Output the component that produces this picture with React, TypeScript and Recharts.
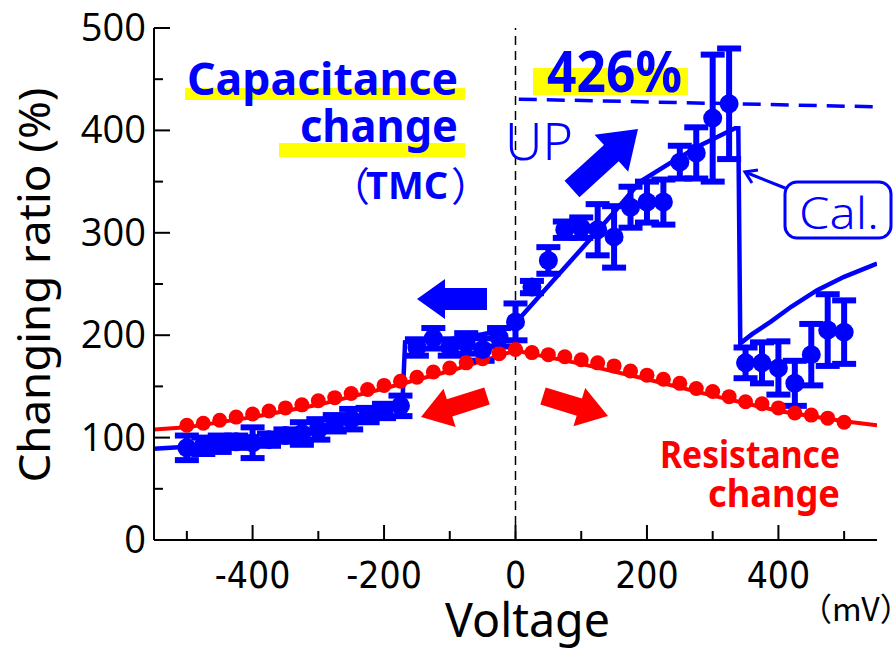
import React from 'react';
import { ComposedChart, Line, Scatter, XAxis, YAxis, ErrorBar, ReferenceLine } from 'recharts';

// Resistance change (red dots, every 25 mV)
const redVolt = [
  -500, -475, -450, -425, -400, -375, -350, -325, -300, -275, -250, -225, -200, -175, -150, -125, -100, -75, -50, -25,
  0, 25, 50, 75, 100, 125, 150, 175, 200, 225, 250, 275, 300, 325, 350, 375, 400, 425, 450, 475, 500,
];
const redRatio = [
  112, 114, 117, 120, 123, 126, 129, 132, 136, 139, 143, 147, 151, 155, 159, 164, 168, 173, 177, 182,
  186, 183, 181, 179, 176, 173, 170, 165, 161, 157, 153, 148, 145, 140, 135, 133, 129, 124, 122, 119, 115,
];

// Resistance fit line
const redFitVolt = [-550, -500, -400, -300, -200, -100, 0, 100, 200, 300, 400, 500, 550];
const redFitRatio = [108, 110, 120, 132, 148, 165, 185, 172, 157, 141, 126, 116, 112];

// Capacitance change (blue, with error bars)
const blueVolt = [
  -500, -475, -450, -425, -400, -375, -350, -325, -300, -275, -250, -225, -200, -175,
  -150, -125, -100, -75, -50, -25, 0,
  25, 50, 75, 100, 125, 150, 175, 200, 225, 250, 275, 300, 325,
  350, 375, 400, 425, 450, 475, 500,
];
const blueRatio = [
  90, 92, 94, 96, 95, 98, 102, 104, 108, 114, 118, 122, 126, 131,
  188, 197, 188, 192, 186, 198, 213,
  247, 273, 303, 305, 303, 296, 325, 330, 330, 369, 378, 412, 426,
  173, 173, 168, 153, 181, 205, 203,
];
const blueErr = [
  12, 8, 8, 6, 15, 6, 6, 11, 10, 8, 10, 7, 7, 10,
  8, 10, 8, 10, 11, 9, 18,
  6, 13, 8, 10, 25, 30, 20, 20, 22, 16, 25, 62, 54,
  15, 20, 26, 22, 30, 35, 31,
];

// Calculated curve (Cal.)
const calVolt = [
  -550, -500, -450, -400, -350, -300, -250, -200, -172, -168, -150, -100, -50, -20, 0,
  50, 100, 150, 190, 235, 280, 334, 339, 342, 360, 388, 420, 459, 500, 550,
];
const calRatio = [
  89, 91, 94, 97, 102, 108, 117, 126, 135, 193, 194, 196, 201, 205, 212,
  248, 284, 320, 350, 368, 385, 402, 402, 192, 201, 213, 228, 244, 257, 270,
];

// 426% guide line
const peakVolt = [5, 550];
const peakRatio = [430.5, 423];

const xTicks = [-500, -400, -300, -200, -100, 0, 100, 200, 300, 400, 500];
const yTicks = [0, 50, 100, 150, 200, 250, 300, 350, 400, 450, 500];

const zip = (xs: number[], ys: number[], es?: number[]) =>
  xs.map((x, i) => ({ x, y: ys[i], e: es ? es[i] : 0 }));

const redDots = zip(redVolt, redRatio);
const redFit = zip(redFitVolt, redFitRatio);
const blueDots = zip(blueVolt, blueRatio, blueErr);
const calLine = zip(calVolt, calRatio);
const peakLine = zip(peakVolt, peakRatio);

const BLUE = '#0000ff';
const RED = '#ff0000';
const YELLOW = '#ffff00';

const BottomTick = (props: any) => {
  const { x, y, payload } = props;
  const major = payload.value % 200 === 0;
  return (
    <g>
      <line x1={x} y1={y} x2={x} y2={y - (major ? 15 : 9)} stroke="#000" strokeWidth={2} />
      {major && (
        <text x={x} y={y + 48} textAnchor="middle" fontSize={37}
          fontFamily="'Liberation Sans Narrow', 'DejaVu Sans Condensed', sans-serif" fill="#000">
          {payload.value}
        </text>
      )}
    </g>
  );
};

const TopTick = (props: any) => {
  const { x, y, payload } = props;
  const major = payload.value % 200 === 0;
  return <line x1={x} y1={y} x2={x} y2={y + (major ? 15 : 9)} stroke="#000" strokeWidth={2} />;
};

const LeftTick = (props: any) => {
  const { x, y, payload } = props;
  const major = payload.value % 100 === 0;
  return (
    <g>
      <line x1={x} y1={y} x2={x + (major ? 16 : 9)} y2={y} stroke="#000" strokeWidth={2} />
      {major && (
        <text x={x - 8} y={y + 13} textAnchor="end" fontSize={38} fontFamily="'Open Sans', sans-serif" fill="#000">
          {payload.value}
        </text>
      )}
    </g>
  );
};

const RightTick = (props: any) => {
  const { x, y, payload } = props;
  const major = payload.value % 100 === 0;
  return <line x1={x} y1={y} x2={x - (major ? 16 : 9)} y2={y} stroke="#000" strokeWidth={2} />;
};

const RedDot = (props: any) => <circle cx={props.cx} cy={props.cy} r={7.5} fill={RED} />;
const BlueDot = (props: any) => <circle cx={props.cx} cy={props.cy} r={9.5} fill={BLUE} />;

// block arrow polygon from tail to tip
function arrow(x1: number, y1: number, x2: number, y2: number, sw: number, hw: number, hl: number) {
  const dx = x2 - x1;
  const dy = y2 - y1;
  const len = Math.hypot(dx, dy);
  const ux = dx / len;
  const uy = dy / len;
  const nx = -uy;
  const ny = ux;
  const bx = x2 - ux * hl;
  const by = y2 - uy * hl;
  const pts = [
    [x1 + nx * sw / 2, y1 + ny * sw / 2],
    [bx + nx * sw / 2, by + ny * sw / 2],
    [bx + nx * hw / 2, by + ny * hw / 2],
    [x2, y2],
    [bx - nx * hw / 2, by - ny * hw / 2],
    [bx - nx * sw / 2, by - ny * sw / 2],
    [x1 - nx * sw / 2, y1 - ny * sw / 2],
  ];
  return pts.map((p) => p.join(',')).join(' ');
}

const FONT = "'Noto Sans', 'Open Sans', sans-serif";
const CJK = "'Noto Sans CJK JP', 'Noto Sans', sans-serif";

function Annotations() {
  return (
    <svg width={893} height={650} style={{ position: 'absolute', left: 0, top: 0, pointerEvents: 'none' }}>
      {/* y axis title */}
      <text transform="translate(50,285) rotate(-90)" textAnchor="middle" fontSize={44} fontFamily={FONT}
        textLength={395} lengthAdjust="spacingAndGlyphs" fill="#000">Changing ratio (%)</text>
      {/* x axis title */}
      <text x={445} y={637} fontSize={48} fontFamily={FONT} textLength={165} lengthAdjust="spacingAndGlyphs"
        fill="#000">Voltage</text>
      <text x={800} y={621} fontSize={32} fontFamily={CJK} fill="#000">（mV）</text>

      {/* Capacitance change */}
      <rect x={185} y={88} width={280} height={12} fill={YELLOW} />
      <rect x={279} y={143} width={186} height={14} fill={YELLOW} />
      <text x={187} y={95} fontSize={44} fontWeight="bold" fontFamily={FONT} fill={BLUE}
        textLength={271} lengthAdjust="spacingAndGlyphs">Capacitance</text>
      <text x={300} y={142} fontSize={44} fontWeight="bold" fontFamily={FONT} fill={BLUE}
        textLength={158} lengthAdjust="spacingAndGlyphs">change</text>
      <text x={330} y={201} fontSize={40} fontFamily={CJK} fill={BLUE}>（</text>
      <text x={366} y={199} fontSize={38} fontWeight="bold" fontFamily={FONT} fill={BLUE}
        textLength={82} lengthAdjust="spacingAndGlyphs">TMC</text>
      <text x={451} y={201} fontSize={40} fontFamily={CJK} fill={BLUE}>）</text>

      {/* 426% */}
      <rect x={533} y={68} width={155} height={27} fill={YELLOW} />
      <text x={547} y={92} fontSize={58} fontWeight="bold" fontFamily={FONT} fill={BLUE}
        textLength={135} lengthAdjust="spacingAndGlyphs">426%</text>

      {/* UP */}
      <text x={505} y={160} fontSize={52} fontWeight={300} fontFamily={FONT} fill={BLUE}
        textLength={68} lengthAdjust="spacingAndGlyphs">UP</text>

      {/* arrows */}
      <polygon points={arrow(572, 189, 638, 129, 22, 50, 36)} fill={BLUE} />
      <polygon points={arrow(487, 299, 417, 299, 22, 40, 28)} fill={BLUE} />
      <polygon points={arrow(543, 396, 608, 416, 18, 40, 30)} fill={RED} />
      <polygon points={arrow(487, 396, 421, 417, 18, 40, 30)} fill={RED} />

      {/* Cal. box */}
      <line x1={785} y1={188} x2={745} y2={172} stroke={BLUE} strokeWidth={3} />
      <polyline points="752,183 745,172 758,170" fill="none" stroke={BLUE} strokeWidth={3} />
      <rect x={785} y={182} width={106} height={56} rx={12} fill="#fff" stroke={BLUE} strokeWidth={3} />
      <text x={799} y={229} fontSize={44} fontWeight={300} fontFamily={FONT} fill={BLUE}
        textLength={80} lengthAdjust="spacingAndGlyphs">Cal.</text>

      {/* Resistance change */}
      <text x={840} y={468} textAnchor="end" fontSize={38} fontWeight="bold" fontFamily={FONT} fill={RED}
        textLength={180} lengthAdjust="spacingAndGlyphs">Resistance</text>
      <text x={840} y={507} textAnchor="end" fontSize={38} fontWeight="bold" fontFamily={FONT} fill={RED}
        textLength={132} lengthAdjust="spacingAndGlyphs">change</text>
    </svg>
  );
}

export default function App() {
  return (
    <div style={{ position: 'absolute', left: 0, top: 0, width: 893, height: 650, background: '#fff' }}>
      <ComposedChart width={893} height={650} margin={{ top: 28, right: 16, bottom: 0, left: 0 }}>
        <XAxis xAxisId="b" dataKey="x" type="number" domain={[-550, 550]} allowDataOverflow ticks={xTicks}
          orientation="bottom" height={110} tickSize={0} tickMargin={0} tickLine={false} tick={<BottomTick />}
          axisLine={{ stroke: '#000', strokeWidth: 2 }} interval={0} />
        <XAxis xAxisId="t" dataKey="x" type="number" domain={[-550, 550]} allowDataOverflow ticks={xTicks}
          orientation="top" height={0} tickSize={0} tickMargin={0} tickLine={false} tick={<TopTick />}
          axisLine={{ stroke: '#000', strokeWidth: 2 }} interval={0} />
        <YAxis yAxisId="l" dataKey="y" type="number" domain={[0, 500]} allowDataOverflow ticks={yTicks}
          orientation="left" width={154} tickSize={0} tickMargin={0} tickLine={false} tick={<LeftTick />}
          axisLine={{ stroke: '#000', strokeWidth: 2 }} interval={0} />
        <YAxis yAxisId="r" dataKey="y" type="number" domain={[0, 500]} allowDataOverflow ticks={yTicks}
          orientation="right" width={0} tickSize={0} tickMargin={0} tickLine={false} tick={<RightTick />}
          axisLine={{ stroke: '#000', strokeWidth: 2 }} interval={0} />

        <ReferenceLine xAxisId="b" yAxisId="l" x={0} stroke="#000" strokeWidth={1.5} strokeDasharray="9 6" />

        <Line xAxisId="b" yAxisId="l" data={redFit} dataKey="y" type="linear" stroke={RED} strokeWidth={4}
          dot={false} isAnimationActive={false} />
        <Scatter xAxisId="b" yAxisId="l" data={redDots} dataKey="y" shape={<RedDot />} isAnimationActive={false} />
        <Line xAxisId="b" yAxisId="l" data={peakLine} dataKey="y" type="linear" stroke={BLUE} strokeWidth={3.5}
          strokeDasharray="18 10" dot={false} isAnimationActive={false} />
        <Scatter xAxisId="b" yAxisId="l" data={blueDots} dataKey="y" shape={<BlueDot />} isAnimationActive={false}>
          <ErrorBar dataKey="e" direction="y" width={12} strokeWidth={6} stroke={BLUE} />
        </Scatter>
        <Line xAxisId="b" yAxisId="l" data={calLine} dataKey="y" type="linear" stroke={BLUE} strokeWidth={4.5}
          dot={false} isAnimationActive={false} />
      </ComposedChart>
      <Annotations />
    </div>
  );
}
